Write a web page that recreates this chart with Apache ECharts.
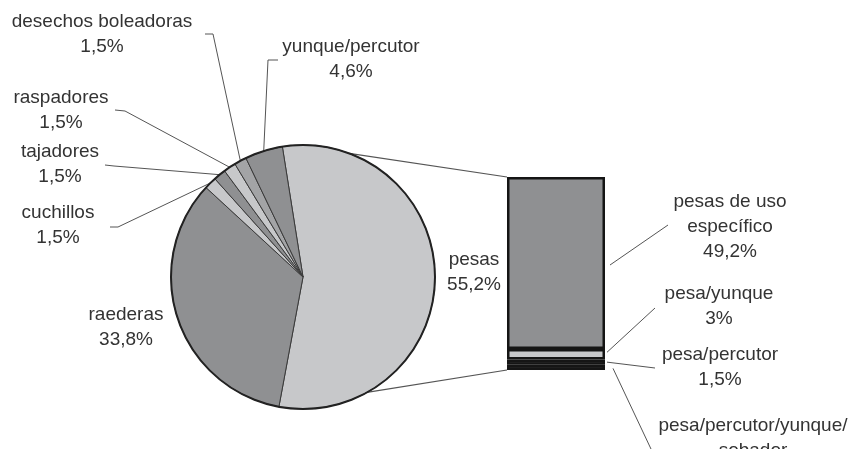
<!DOCTYPE html>
<html>
<head>
<meta charset="utf-8">
<script src="https://cdn.jsdelivr.net/npm/echarts@6/dist/echarts.min.js"></script>
<style>
  html, body { margin: 0; padding: 0; background: #fff; }
  #chart { width: 848px; height: 449px; }
</style>
</head>
<body>
<div id="chart"></div>
<script>
// Artefact types (pie) and the breakdown of "pesas" (stacked bar)
const categories = ['pesas', 'raederas', 'cuchillos', 'tajadores', 'raspadores', 'desechos boleadoras', 'yunque/percutor'];
const values = [55.2, 33.8, 1.5, 1.5, 1.5, 1.5, 4.6];
const barCategories = ['pesas de uso\nespecífico', 'pesa/yunque', 'pesa/percutor', 'pesa/percutor/yunque/\nsobador'];
const barValues = [49.2, 3, 1.5, 1.5];

// Styling
const DARK = '#8f9092', LIGHT = '#c7c8ca', MID = '#a3a4a6', BLACKISH = '#3c3c3c';
const pieColors = [LIGHT, DARK, LIGHT, DARK, LIGHT, MID, DARK];
const barColors = [DARK, LIGHT, BLACKISH, BLACKISH];
const TEXT = { color: '#333', fontFamily: 'Liberation Sans, Arial, sans-serif', fontSize: 19, lineHeight: 25 };
const LEADER = { color: '#555', width: 1 };

// Layout
const PIE_CENTER = [303, 277], PIE_R = 132;
const GRID = { left: 507, top: 177, width: 98, height: 193 };
const pieLabelPos = [
  { x: 474, y: 272 },
  { x: 126, y: 327 },
  { x: 58, y: 225, knee: [118, 227], end: [110, 227] },
  { x: 60, y: 164, knee: [114, 166], end: [105, 165] },
  { x: 61, y: 110, knee: [125, 111], end: [115, 110] },
  { x: 102, y: 34, knee: [213, 34], end: [205, 34] },
  { x: 351, y: 59, knee: [268, 60], end: [278, 60] }
];
const barLabelPos = [
  { x: 730, y: 227, dx: 5, dy: 2, end: [668, 225] },
  { x: 719, y: 306, dx: 2, dy: -2, end: [655, 308] },
  { x: 720, y: 367, dx: 2, dy: 0, end: [655, 368] },
  { x: 753, y: 451, dx: 8, dy: 1, end: [651, 449] }
];

const pct = v => String(v).replace('.', ',') + '%';

const pieData = categories.map((name, i) => ({
  name, value: values[i],
  itemStyle: { color: pieColors[i] },
  labelLine: { show: !!pieLabelPos[i].knee }
}));

// Stacked from the bottom: last category first
const barSeries = barCategories.map((name, i) => ({ name, i })).reverse().map(({ name, i }) => ({
  type: 'bar',
  name,
  stack: 'pesas',
  barWidth: '100%',
  data: [barValues[i]],
  itemStyle: { color: barColors[i], borderColor: '#151515', borderWidth: 2.5 },
  label: {
    show: true,
    position: 'right',
    formatter: p => p.seriesName + '\n' + pct(p.value),
    ...TEXT
  },
  labelLayout: () => {
    const L = barLabelPos[i];
    return { x: L.x, y: L.y, align: 'center', verticalAlign: 'middle' };
  },
  silent: true
}));

const chart = echarts.init(document.getElementById('chart'), null, { renderer: 'canvas' });
chart.setOption({
  backgroundColor: '#fff',
  animation: false,
  grid: { left: GRID.left, top: GRID.top, width: GRID.width, height: GRID.height },
  xAxis: { type: 'category', data: ['pesas'], show: false },
  yAxis: { type: 'value', min: 0, max: 55.2, show: false },
  series: [
    {
      type: 'pie',
      center: PIE_CENTER,
      radius: PIE_R,
      startAngle: 99,
      clockwise: true,
      silent: true,
      data: pieData,
      itemStyle: { borderColor: '#3a3a3a', borderWidth: 1 },
      label: {
        show: true,
        position: 'outside',
        overflow: 'none',
        formatter: p => p.name + '\n' + pct(p.value),
        ...TEXT
      },
      labelLine: { lineStyle: LEADER, length: 10, length2: 10 },
      labelLayout: params => {
        const L = pieLabelPos[params.dataIndex];
        const out = { x: L.x, y: L.y, align: 'center', verticalAlign: 'middle' };
        if (L.knee && params.labelLinePoints) {
          out.labelLinePoints = [params.labelLinePoints[0], L.knee, L.end];
        }
        return out;
      }
    },
    // Heavier outer rim of the pie
    {
      type: 'pie',
      center: PIE_CENTER,
      radius: PIE_R,
      silent: true,
      label: { show: false },
      labelLine: { show: false },
      data: [{ value: 1, itemStyle: { color: 'rgba(0,0,0,0)', borderColor: '#222', borderWidth: 2 } }]
    },
    ...barSeries
  ]
});

// Connectors from the pie rim to the corners of the bar
const rim = deg => {
  const a = deg * Math.PI / 180;
  return [PIE_CENTER[0] + PIE_R * Math.sin(a), PIE_CENTER[1] - PIE_R * Math.cos(a)];
};
const total = barValues.reduce((s, v) => s + v, 0);
const barTop = chart.convertToPixel({ yAxisIndex: 0 }, total);
const barBottom = chart.convertToPixel({ yAxisIndex: 0 }, 0);
const p1 = rim(20.5), p2 = rim(151);
const graphics = [
  { type: 'line', silent: true, shape: { x1: p1[0], y1: p1[1], x2: GRID.left, y2: barTop }, style: { stroke: '#555', lineWidth: 1.2 } },
  { type: 'line', silent: true, shape: { x1: p2[0], y1: p2[1], x2: GRID.left, y2: barBottom }, style: { stroke: '#555', lineWidth: 1.2 } }
];

// Leader lines from the middle of each bar segment to its label
const barRight = GRID.left + GRID.width;
barValues.forEach((v, i) => {
  const below = barValues.slice(i + 1).reduce((s, x) => s + x, 0);
  const yMid = chart.convertToPixel({ yAxisIndex: 0 }, below + v / 2);
  const L = barLabelPos[i];
  graphics.push({
    type: 'line', silent: true,
    shape: { x1: barRight + L.dx, y1: yMid + L.dy, x2: L.end[0], y2: L.end[1] },
    style: { stroke: LEADER.color, lineWidth: LEADER.width }
  });
});
chart.setOption({ graphic: graphics });
</script>
</body>
</html>
